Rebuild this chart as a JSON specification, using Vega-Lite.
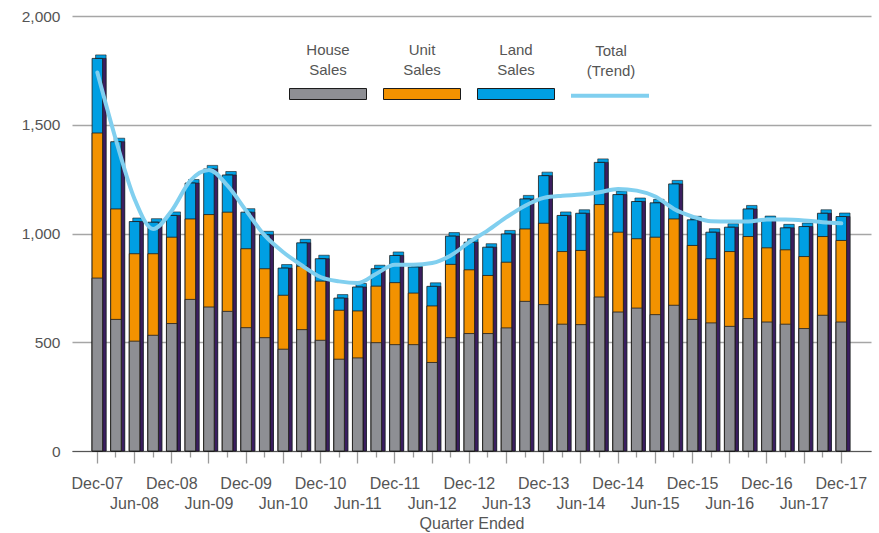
{
  "$schema": "https://vega.github.io/schema/vega-lite/v6.json",
  "width": 799,
  "height": 435,
  "autosize": {"type": "none"},
  "padding": {"left": 72, "top": 16, "right": 8, "bottom": 82},
  "background": "white",
  "config": {
    "font": "Liberation Sans",
    "view": {"stroke": null},
    "style": {"guide-label": {"lineHeight": 20}}
  },
  "data": {
    "values": [
      {"q": "Dec-07", "house": 795, "unit": 667, "land": 343, "trend": 1740},
      {"q": "Mar-08", "house": 605, "unit": 508, "land": 309, "trend": 1430},
      {"q": "Jun-08", "house": 505, "unit": 402, "land": 148, "trend": 1159},
      {"q": "Sep-08", "house": 532, "unit": 375, "land": 145, "trend": 1021},
      {"q": "Dec-08", "house": 586, "unit": 397, "land": 100, "trend": 1105},
      {"q": "Mar-09", "house": 697, "unit": 370, "land": 165, "trend": 1243},
      {"q": "Jun-09", "house": 662, "unit": 425, "land": 210, "trend": 1292},
      {"q": "Sep-09", "house": 642, "unit": 456, "land": 171, "trend": 1220},
      {"q": "Dec-09", "house": 567, "unit": 363, "land": 168, "trend": 1105},
      {"q": "Mar-10", "house": 521, "unit": 317, "land": 156, "trend": 991},
      {"q": "Jun-10", "house": 468, "unit": 248, "land": 125, "trend": 914},
      {"q": "Sep-10", "house": 558, "unit": 292, "land": 107, "trend": 853},
      {"q": "Dec-10", "house": 509, "unit": 272, "land": 103, "trend": 800},
      {"q": "Mar-11", "house": 422, "unit": 225, "land": 56, "trend": 780},
      {"q": "Jun-11", "house": 428, "unit": 216, "land": 110, "trend": 772},
      {"q": "Sep-11", "house": 498, "unit": 260, "land": 80, "trend": 815},
      {"q": "Dec-11", "house": 489, "unit": 285, "land": 125, "trend": 856},
      {"q": "Mar-12", "house": 489, "unit": 237, "land": 120, "trend": 856},
      {"q": "Jun-12", "house": 407, "unit": 260, "land": 90, "trend": 864},
      {"q": "Sep-12", "house": 521, "unit": 337, "land": 130, "trend": 899},
      {"q": "Dec-12", "house": 540, "unit": 293, "land": 127, "trend": 960},
      {"q": "Mar-13", "house": 540, "unit": 267, "land": 130, "trend": 1014},
      {"q": "Jun-13", "house": 566, "unit": 302, "land": 130, "trend": 1075},
      {"q": "Sep-13", "house": 688, "unit": 333, "land": 138, "trend": 1128},
      {"q": "Dec-13", "house": 673, "unit": 374, "land": 219, "trend": 1164},
      {"q": "Mar-14", "house": 583, "unit": 334, "land": 166, "trend": 1174},
      {"q": "Jun-14", "house": 581, "unit": 341, "land": 171, "trend": 1179},
      {"q": "Sep-14", "house": 708, "unit": 425, "land": 194, "trend": 1190},
      {"q": "Dec-14", "house": 639, "unit": 367, "land": 173, "trend": 1205},
      {"q": "Mar-15", "house": 657, "unit": 319, "land": 171, "trend": 1197},
      {"q": "Jun-15", "house": 627, "unit": 356, "land": 158, "trend": 1170},
      {"q": "Sep-15", "house": 670, "unit": 397, "land": 161, "trend": 1113},
      {"q": "Dec-15", "house": 605, "unit": 340, "land": 118, "trend": 1078},
      {"q": "Mar-16", "house": 589, "unit": 295, "land": 122, "trend": 1056},
      {"q": "Jun-16", "house": 573, "unit": 344, "land": 112, "trend": 1055},
      {"q": "Sep-16", "house": 609, "unit": 377, "land": 127, "trend": 1055},
      {"q": "Dec-16", "house": 593, "unit": 341, "land": 130, "trend": 1064},
      {"q": "Mar-17", "house": 583, "unit": 342, "land": 101, "trend": 1064},
      {"q": "Jun-17", "house": 563, "unit": 331, "land": 138, "trend": 1060},
      {"q": "Sep-17", "house": 624, "unit": 362, "land": 107, "trend": 1052},
      {"q": "Dec-17", "house": 593, "unit": 375, "land": 110, "trend": 1047}
    ]
  },
  "resolve": {"axis": {"x": "independent"}},
  "layer": [
    {
      "transform": [{"fold": ["house", "unit", "land"]}],
      "mark": {"type": "bar", "width": 10.5, "fill": "#009fe3", "stroke": "#1a1a1a", "strokeWidth": 0.6, "xOffset": 3.5, "yOffset": -3.5},
      "encoding": {
        "x": {"field": "q", "type": "nominal", "sort": null,
          "scale": {"paddingInner": 0, "paddingOuter": 0.98, "align": 0.44},
          "axis": {"orient": "bottom", "values": ["Mar-08","Sep-08","Mar-09","Sep-09","Mar-10","Sep-10","Mar-11","Sep-11","Mar-12","Sep-12","Mar-13","Sep-13","Mar-14","Sep-14","Mar-15","Sep-15","Mar-16","Sep-16","Mar-17","Sep-17"],
            "tickSize": 6, "tickColor": "#999999", "tickWidth": 1.3, "labels": false, "domain": false, "grid": false, "title": null}},
        "y": {"aggregate": "sum", "field": "value", "type": "quantitative", "scale": {"domain": [0, 2000], "nice": false}, "title": null,
          "axis": {"values": [0, 500, 1000, 1500, 2000], "format": ",.0f", "domain": false, "ticks": false, "grid": true, "gridColor": "#a6a6a6", "gridWidth": 1.3, "labelFontSize": 15.5, "labelColor": "#555555", "labelPadding": 12, "title": null}}
      }
    },
    {
      "transform": [{"fold": ["house", "unit", "land"]}],
      "mark": {"type": "bar", "width": 10.5, "fill": "#3b1e60", "stroke": "#1a1a1a", "strokeWidth": 0.6, "xOffset": 3.5},
      "encoding": {
        "x": {"field": "q", "type": "nominal", "sort": null, "axis": null},
        "y": {"aggregate": "sum", "field": "value", "type": "quantitative", "title": null}
      }
    },
    {
      "transform": [{"fold": ["house", "unit", "land"]}],
      "mark": {"type": "bar", "width": 10.5, "stroke": "#1a1a1a", "strokeWidth": 0.8},
      "encoding": {
        "x": {"field": "q", "type": "nominal", "sort": null, "axis": null},
        "y": {"aggregate": "sum", "field": "value", "type": "quantitative", "title": null},
        "color": {"datum": "Land Sales", "type": "nominal",
          "scale": {"domain": ["House Sales", "Unit Sales", "Land Sales"], "range": ["#8e8f94", "#f39200", "#009fe3"]},
          "legend": {"orient": "none", "legendX": 217, "legendY": 3, "direction": "horizontal", "title": null,
            "symbolType": "M-1,0.78H1V1.065H-1Z", "symbolSize": 5929, "symbolStrokeColor": "#1a1a1a", "symbolStrokeWidth": 1,
            "labelExpr": "split(datum.label, ' ')", "labelAlign": "center", "labelBaseline": "bottom",
            "labelOffset": -39, "labelFontSize": 15, "labelColor": "#555555", "columnPadding": 12, "labelLimit": 200}}
      }
    },
    {
      "transform": [{"fold": ["house", "unit", "land"]}, {"filter": "datum.key != 'land'"}],
      "mark": {"type": "bar", "width": 10.5, "stroke": "#1a1a1a", "strokeWidth": 0.8},
      "encoding": {
        "x": {"field": "q", "type": "nominal", "sort": null, "axis": null},
        "y": {"aggregate": "sum", "field": "value", "type": "quantitative", "title": null},
        "color": {"datum": "Unit Sales", "type": "nominal"}
      }
    },
    {
      "mark": {"type": "bar", "width": 10.5, "stroke": "#1a1a1a", "strokeWidth": 0.8},
      "encoding": {
        "x": {"field": "q", "type": "nominal", "sort": null,
          "axis": {"orient": "bottom", "values": ["Dec-07","Jun-08","Dec-08","Jun-09","Dec-09","Jun-10","Dec-10","Jun-11","Dec-11","Jun-12","Dec-12","Jun-13","Dec-13","Jun-14","Dec-14","Jun-15","Dec-15","Jun-16","Dec-16","Jun-17","Dec-17"],
            "tickSize": 12, "tickColor": "#999999", "tickWidth": 1.3, "domainColor": "#555555", "domainWidth": 1.2, "grid": false,
            "labelExpr": "indexof(datum.value, 'Jun') == 0 ? ['', datum.value] : datum.value",
            "labelAngle": 0, "labelFontSize": 16, "labelLineHeight": 20, "labelPadding": 12, "labelColor": "#555555", "labelBaseline": "top", "labelOverlap": false,
            "title": "Quarter Ended", "titleFontSize": 16, "titleFontWeight": "normal", "titleColor": "#555555", "titlePadding": 4}},
        "y": {"field": "house", "type": "quantitative", "title": null},
        "color": {"datum": "House Sales", "type": "nominal"}
      }
    },
    {
      "mark": {"type": "line", "interpolate": "monotone", "strokeWidth": 4, "strokeCap": "round"},
      "encoding": {
        "x": {"field": "q", "type": "nominal", "sort": null, "axis": null},
        "y": {"field": "trend", "type": "quantitative", "title": null},
        "stroke": {"datum": "Total (Trend)", "type": "nominal", "scale": {"range": ["#80cfef"]},
          "legend": {"orient": "none", "legendX": 497, "legendY": 2, "direction": "horizontal", "title": null,
            "symbolType": "M-1,0.94H1", "symbolSize": 6084, "symbolStrokeWidth": 4, "symbolFillColor": "transparent",
            "labelExpr": "split(datum.label, ' ')", "labelAlign": "center", "labelBaseline": "bottom",
            "labelOffset": -40, "labelFontSize": 15, "labelColor": "#555555", "labelLimit": 200}}
      }
    }
  ]
}
